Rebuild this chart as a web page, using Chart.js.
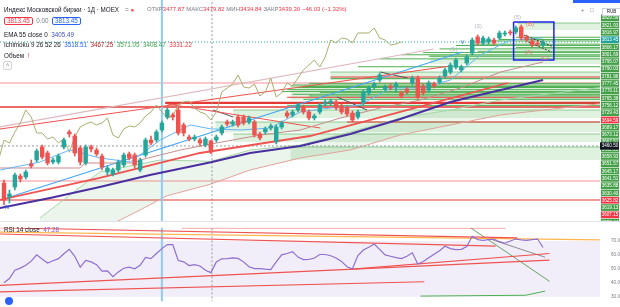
<!DOCTYPE html>
<html>
<head>
<meta charset="utf-8">
<script src="https://cdn.jsdelivr.net/npm/chart.js@4.4.1/dist/chart.umd.min.js"></script>
<style>
  body { margin:0; width:620px; height:307px; overflow:hidden; position:relative; background:#fff; font-family:"Liberation Sans", Arial, sans-serif; }
  canvas { position:absolute; left:0; }
  #mainChart { top:0; }
  #rsiChart { top:222px; }
  .t { position:absolute; white-space:nowrap; font-size:6.3px; line-height:7px; color:#131722; }
  .g { color:#787b86; }
  .r { color:#f23645; }
  .bx { border:1px solid; border-radius:2px; padding:0 2px; display:inline-block; line-height:6px; }
</style>
</head>
<body>
<canvas id="mainChart" width="620" height="221"></canvas>
<div style="position:absolute;left:0;top:221px;width:620px;height:1px;background:#e0e3eb"></div>
<canvas id="rsiChart" width="620" height="85"></canvas>

<!-- легенда сверху слева -->
<div class="t" style="left:4px;top:6px">Индекс Московской биржи · 1Д · MOEX</div>
<div class="t g" style="left:125px;top:6px">= <span style="color:#f7525f">●</span></div>
<div class="t" style="left:147px;top:6px;font-size:6px"><span class="g">ОТКР</span><span class="r">3477.87</span> <span class="g">МАКС</span><span class="r">3479.82</span> <span class="g">МИН</span><span class="r">3434.84</span> <span class="g">ЗАКР</span><span class="r">3439.30</span> <span class="r">−46.03 (−1.32%)</span></div>
<div class="t" style="left:4px;top:17px"><span class="bx" style="color:#f23645;border-color:#f23645">3813.45</span> <span class="g">&nbsp;0.00&nbsp;</span> <span class="bx" style="color:#2962ff;border-color:#2962ff">3813.45</span></div>
<div class="t" style="left:4px;top:31px">EMA 55 close 0 &nbsp;<span style="color:#3f51b5">3405.49</span></div>
<div class="t" style="left:4px;top:41px">Ichimoku 9 26 52 26 &nbsp;<span style="color:#2962ff">3518.51</span> &nbsp;<span style="color:#b71c1c">3467.25</span> &nbsp;<span style="color:#43a047">3571.05</span> &nbsp;<span style="color:#43a047">3408.47</span> &nbsp;<span style="color:#f23645">3331.22</span></div>
<div class="t" style="left:4px;top:52px">Объем &nbsp;<span style="color:#f23645">!</span></div>
<div class="t g" style="left:3px;top:61px;border:1px solid #d1d4dc;border-radius:2px;padding:0 2px">^</div>

<!-- правый верхний угол -->
<div style="position:absolute;left:573px;top:0;width:47px;height:3px;background:#2962ff"></div>
<div class="t g" style="left:581px;top:7px;font-size:6px">+</div>
<div class="t g" style="left:590px;top:7px;font-size:6px">□</div>
<div class="t" style="left:602px;top:8px;width:17px;height:6px;font-size:4.5px;line-height:6px;text-align:center;border:1px solid #d1d4dc;background:#fff">RUB</div>

<!-- подпись RSI -->
<div class="t" style="left:4px;top:226px">RSI 14 close &nbsp;<span style="color:#7e57c2">47.28</span></div>
<div style="position:absolute;left:5px;top:297px;width:8px;height:8px;border-radius:50%;background:#2962ff"></div>

<script>
// свечи (дневки), индексы 0..99
const openP = [3334.9,3287.4,3321.3,3358.7,3355.3,3399.4,3413.0,3457.1,3436.7,3406.2,
  3406.2,3457.1,3508.0,3494.4,3453.7,3402.8,3457.1,3446.9,3426.5,3372.2,
  3365.4,3379.0,3396.0,3433.3,3429.9,3379.0,3429.9,3480.8,3480.8,3514.8,
  3558.9,3565.7,3582.7,3531.8,3491.0,3484.2,3480.8,3463.9,3477.87,3480.8,
  3504.6,3541.9,3535.1,3558.9,3558.9,3541.9,3541.9,3501.2,3508.0,3521.6,
  3474.1,3525.0,3572.5,3565.7,3582.7,3592.8,3575.9,3555.5,3575.9,3603.0,
  3606.4,3609.8,3596.2,3589.4,3572.5,3558.9,3606.4,3640.4,3660.7,3684.5,
  3653.9,3664.1,3664.1,3640.4,3653.9,3674.3,3691.3,3664.1,3650.5,3670.9,
  3677.7,3698.1,3711.6,3728.6,3718.4,3742.2,3776.1,3830.4,3810.1,3813.5,
  3820.2,3827.0,3840.6,3847.4,3847.4,3864.4,3830.4,3816.8,3810.1,3803.3];
const highP = [3345.1,3311.1,3368.8,3365.4,3379.0,3413.0,3450.3,3463.9,3443.5,3419.7,
  3433.3,3487.6,3514.8,3501.2,3460.5,3463.9,3463.9,3453.7,3433.3,3392.6,
  3385.8,3413.0,3436.7,3440.1,3436.7,3419.7,3487.6,3494.4,3514.8,3545.3,
  3589.4,3572.5,3589.4,3538.5,3497.8,3497.8,3487.6,3491.0,3479.82,3497.8,
  3531.8,3548.7,3548.7,3565.7,3565.7,3562.3,3548.7,3508.0,3525.0,3535.1,
  3531.8,3545.3,3579.3,3582.7,3606.4,3599.6,3582.7,3569.1,3606.4,3616.6,
  3620.0,3616.6,3603.0,3596.2,3579.3,3582.7,3650.5,3664.1,3677.7,3708.2,
  3667.5,3670.9,3677.7,3647.1,3660.7,3698.1,3698.1,3670.9,3681.1,3677.7,
  3698.1,3725.2,3742.2,3759.1,3735.4,3769.3,3827.0,3837.2,3833.8,3830.4,
  3827.0,3850.8,3850.8,3854.2,3867.8,3871.2,3837.2,3823.6,3816.8,3820.2];
const lowP = [3260.2,3267.0,3311.1,3338.3,3348.5,3385.8,3406.2,3416.4,3396.0,3399.4,
  3399.4,3450.3,3491.0,3426.5,3396.0,3396.0,3440.1,3426.5,3379.0,3362.0,
  3358.7,3372.2,3389.2,3413.0,3385.8,3372.2,3423.1,3463.9,3474.1,3508.0,
  3552.1,3548.7,3497.8,3494.4,3477.4,3477.4,3460.5,3457.1,3434.84,3474.1,
  3497.8,3528.4,3528.4,3525.0,3531.8,3535.1,3491.0,3480.8,3501.2,3514.8,
  3467.3,3518.2,3555.5,3558.9,3575.9,3569.1,3548.7,3548.7,3569.1,3596.2,
  3599.6,3582.7,3569.1,3562.3,3541.9,3552.1,3599.6,3633.6,3653.9,3677.7,
  3647.1,3650.5,3643.8,3623.4,3637.0,3667.5,3620.0,3633.6,3643.8,3657.3,
  3670.9,3691.3,3704.8,3721.8,3711.6,3735.4,3769.3,3803.3,3803.3,3806.7,
  3803.3,3820.2,3833.8,3837.2,3840.6,3820.2,3813.5,3796.5,3799.9,3796.5];
const closeP = [3277.2,3297.6,3362.0,3348.5,3372.2,3392.6,3443.5,3423.1,3402.8,3413.0,
  3426.5,3480.8,3501.2,3436.7,3406.2,3457.1,3450.3,3433.3,3389.2,3385.8,
  3379.0,3406.2,3429.9,3419.7,3396.0,3413.0,3480.8,3470.7,3508.0,3538.5,
  3582.7,3558.9,3504.6,3504.6,3484.2,3491.0,3470.7,3484.2,3439.30,3491.0,
  3525.0,3535.1,3541.9,3531.8,3538.5,3555.5,3497.8,3487.6,3518.2,3528.4,
  3525.0,3538.5,3562.3,3575.9,3599.6,3575.9,3555.5,3562.3,3599.6,3609.8,
  3613.2,3589.4,3575.9,3569.1,3548.7,3575.9,3643.8,3657.3,3670.9,3701.5,
  3660.7,3657.3,3670.9,3630.2,3643.8,3691.3,3626.8,3640.4,3674.3,3664.1,
  3691.3,3718.4,3735.4,3752.4,3728.6,3762.5,3820.2,3810.1,3827.0,3823.6,
  3810.1,3844.0,3844.0,3844.0,3861.0,3827.0,3820.2,3803.3,3806.7,3813.45];

// RSI 14
const rsiValues = [40,43,49,50.5,52.5,55.5,60,57,54.2,55.8,
  57.3,60.8,64,59,51.2,56,55,53,48.3,48.5,
  44.3,47.8,50.4,51.2,50,52.5,58.2,57.3,61,64.5,
  67.4,67.4,56,55,52.3,53,52,49,47.28,55,
  57.2,57.3,57.8,57.5,55,51.5,50.2,50.2,49.8,49.5,
  55,60,61,62.3,58.4,56.6,56.7,57.8,60.3,60.3,
  59.4,57.8,55.3,51.5,50,59.5,63.5,65.5,67.8,64,
  60,59,58,57.3,59,61.5,53.5,55.3,58,60.5,
  63,66.2,64.5,63.8,64,66,73.4,71,70.4,71,
  71.4,69.5,68.4,70,71.4,70.8,70.4,71,71.4,65.3];

// Ишимоку и EMA: [индекс, цена]
const tenkanPts = [[-0.7,3379],[6.6,3406.2],[12.1,3446.9],[17.6,3419.7],[23.2,3406.2],[28.7,3480.8],[34.2,3531.8],[38,3518.51],[43.4,3514.8],[48.9,3521.6],[54.4,3575.9],[60,3589.4],[65.4,3599.6],[71,3657.3],[76.5,3657.3],[82,3684.5],[87.5,3769.3],[93,3820.2],[99,3827]];
const kijunPts = [[-0.7,3385.8],[14,3385.8],[14.9,3402.8],[24.1,3402.8],[25,3413],[32.4,3446.9],[38,3467.25],[47.1,3497.8],[54.4,3514.8],[61.8,3555.5],[69.1,3589.4],[76.5,3616.6],[83.8,3657.3],[91.2,3711.6],[99,3745.6]];
const spanAPts = [[6.6,3216.1],[17.6,3372.2],[28.7,3413],[38,3408.47],[45.2,3446.9],[54.4,3463.9],[63.6,3508],[72.8,3555.5],[82,3582.7],[91.2,3616.6],[110,3660]];
const spanBPts = [[6.6,3120],[19.5,3192.4],[25,3243.3],[29.8,3290.8],[38,3331.22],[45.2,3379],[54.4,3419.7],[63.6,3446.9],[72.8,3497.8],[82,3531.8],[91.2,3565.7],[110,3605]];
const emaPts = [[-0.74,3250],[8.46,3284],[17.6,3321.3],[26.8,3362],[38,3405.49],[45.2,3436.7],[54.4,3460.5],[63.6,3501.2],[72.8,3552.1],[82,3609.8],[91.2,3650.5],[99,3684.5]];
const redCurvePts = [[-0.74,3277.2],[17.6,3351.9],[36,3436.7],[56.2,3494.4],[72.8,3575.9],[92.5,3674.3]];

// горизонтальные уровни с метками на шкале
const levelPrices = [3829.59,3821.93,3816.97,3806.17,3801.69,3795.07,3790.03,3781.96,3777.45,3770.11,3765.38,3756.12,3729.43,3694.59,3689.17,3673.12,3667.51,3662.20,3658.93,3651.57,3645.17,3641.51,3635.88,3630.40,3625.82,3619.13,3607.15,3598.44];
const levelStarts = [94,91,88,86,83,94,80,87,77,73,78,69,65,60,60,56,53,55,54,52,51,58,53,56,52,55,29.6,52];
const levelKinds = ['g','g','g','g','g','g','g','g','g','g','g','g','g','r','g','g','g','g','g','g','g','g','g','g','r','g','r','g'];
// красные линии без меток
const redPrices = [3674.3,3592.8,3541.9,3341.7,3277.2];
const redStarts = [-0.74,-0.74,63,-0.74,-0.74];
// зелёные прямоугольники
const zoneTops = [3877.9,3765.9,3711.6,3664.1,3582.7,3541.9,3501.2,3457.1];
const zoneBottoms = [3854.2,3738.8,3684.5,3616.6,3555.5,3508,3474.1,3413];
const zoneStarts = [94.3,78.3,59.9,52.6,42.1,38.8,42.1,52.6];

const crossIndex = 38.2, crossPrice = 3460.50, markIndex = 29;

const waveLabels = [
  { i: 0.6, p: 3252, t: 'IV', c: '#2962ff' },
  { i: 84.2, p: 3812, t: 'V', c: '#2962ff' },
  { i: 82.6, p: 3790, t: '(1)', c: '#b2b5be' },
  { i: 87.1, p: 3868, t: '(3)', c: '#b2b5be' },
  { i: 94.3, p: 3898, t: '(5)', c: '#b2b5be' },
  { i: 96.6, p: 3872, t: '(B)', c: '#e57373' },
  { i: 96.4, p: 3780, t: '(A)', c: '#e57373' },
  { i: 99.3, p: 3757, t: '(C)', c: '#e57373' }
];

const X_MIN = -0.735, X_MAX = 109.47;
const UP = '#26a69a', DOWN = '#ef5350';

function seg(pts, color, width, order, dash) {
  return {
    type: 'line',
    data: pts.map(function (q) { return { x: q[0], y: q[1] }; }),
    borderColor: color, borderWidth: width, borderDash: dash || [],
    pointRadius: 0, fill: false, tension: 0, order: order
  };
}

window.onload = function () {
  const candleColors = closeP.map(function (c, i) { return c >= openP[i] ? UP : DOWN; });
  const datasets = [];

  // тела свечей
  datasets.push({
    type: 'bar', order: 0, grouped: false, barThickness: 3.8,
    data: closeP.map(function (c, i) { return { x: i, y: [openP[i], c] }; }),
    backgroundColor: candleColors, minBarLength: 1
  });
  // тени
  datasets.push({
    type: 'bar', order: 1, grouped: false, barThickness: 1,
    data: closeP.map(function (c, i) { return { x: i, y: [lowP[i], highP[i]] }; }),
    backgroundColor: candleColors
  });

  // синий прямоугольник и канал внутри
  datasets.push(seg([[93.6,3881.3],[101,3881.3],[101,3752.4],[93.6,3752.4],[93.6,3881.3]], '#1f24e8', 1.5, 2));
  datasets.push(seg([[95.5,3837],[101,3796.5]], '#333', 1, 2, [2, 1.5]));
  datasets.push(seg([[96.4,3813],[100.6,3779]], '#333', 1, 2, [2, 1.5]));

  // EMA 55 и красная кривая
  datasets.push(seg(emaPts, '#4a2fa0', 2, 3));
  datasets.push(seg(redCurvePts, '#ef5350', 1.8, 3));

  // Ишимоку
  datasets.push(seg(tenkanPts, '#64b5f6', 1, 4));
  datasets.push(seg(kijunPts, '#c98b8b', 1, 4));
  datasets.push({
    type: 'line', order: 7, pointRadius: 0, tension: 0, borderWidth: 1, borderColor: '#a5d6a7',
    data: spanAPts.map(function (q) { return { x: q[0], y: q[1] }; }),
    fill: { target: '+1', above: 'rgba(67,160,71,0.10)', below: 'rgba(244,67,54,0.08)' }
  });
  datasets.push(seg(spanBPts, '#e6a3a0', 1, 7));
  // запаздывающая линия: закрытия, сдвинутые на 26 баров назад
  datasets.push({
    type: 'line', order: 4, pointRadius: 0, tension: 0, borderWidth: 1, borderColor: '#a9ad6e', fill: false,
    data: closeP.map(function (c, i) { return { x: i - 26, y: c }; })
  });

  // трендовые линии
  datasets.push(seg([[-0.74,3525],[78.9,3789.7]], '#dcb8bd', 1.2, 5));
  datasets.push(seg([[-0.74,3518.2],[82,3732]], '#ef5350', 1.2, 5));
  datasets.push(seg([[1.1,3287.4],[84.2,3779.5]], '#42a5f5', 1.2, 5));
  datasets.push(seg([[30,3603],[58.1,3521.6]], '#ef5350', 1, 5));
  datasets.push(seg([[61.2,3626.8],[66.7,3582.7]], '#555', 1, 5));
  datasets.push(seg([[69.1,3711.6],[74.1,3691.3]], '#555', 1, 5));
  datasets.push(seg([[38.4,3582.7],[42.1,3558.9]], '#555', 1, 5));

  // вертикаль и перекрестие
  datasets.push(seg([[markIndex,3100],[markIndex,4000]], '#90caf9', 2, 6));
  datasets.push(seg([[crossIndex,3100],[crossIndex,4000]], '#9598a1', 1, 6, [2, 2]));
  datasets.push(seg([[X_MIN,crossPrice],[X_MAX,crossPrice]], '#9598a1', 1, 6, [2, 2]));
  datasets.push(seg([[X_MIN,closeP[99]],[X_MAX,closeP[99]]], UP, 1, 6, [1, 2]));

  // уровни
  levelPrices.forEach(function (p, k) {
    const red = levelKinds[k] === 'r';
    datasets.push(seg([[levelStarts[k], p], [X_MAX, p]], red ? '#e53935' : '#4caf50', k === 26 ? 2.2 : 1, 8));
  });
  redPrices.forEach(function (p, k) {
    const light = k === 0 || k === 3;
    datasets.push(seg([[redStarts[k], p], [X_MAX, p]], light ? 'rgba(242,54,69,0.55)' : '#e53935', k === 1 ? 1.6 : 1.2, 8));
  });
  // зоны
  zoneTops.forEach(function (p, k) {
    datasets.push({
      type: 'line', order: 9, pointRadius: 0, borderWidth: 1, borderColor: 'rgba(76,175,80,0.6)',
      data: [{ x: zoneStarts[k], y: p }, { x: X_MAX, y: p }],
      fill: { value: zoneBottoms[k] }, backgroundColor: 'rgba(76,175,80,0.18)'
    });
  });

  // метки волн и стопка меток на правой шкале
  const axisLabelPlugin = {
    id: 'axisLabels',
    afterDatasetsDraw(chart) {
      const ctx = chart.ctx, xs = chart.scales.x, ys = chart.scales.y;
      ctx.save();
      ctx.font = '6px "Liberation Sans", Arial';
      ctx.textAlign = 'center';
      ctx.textBaseline = 'middle';
      waveLabels.forEach(function (w) {
        ctx.fillStyle = w.c;
        ctx.fillText(w.t, xs.getPixelForValue(w.i), ys.getPixelForValue(w.p));
      });
      ctx.restore();
    },
    afterDraw(chart) {
      const ctx = chart.ctx, ys = chart.scales.y;
      const left = chart.chartArea.right + 1, w = chart.width - left - 1, h = 7.3;
      const items = levelPrices.map(function (p, k) {
        return { p: p, bg: levelKinds[k] === 'r' ? '#f23645' : '#43a047' };
      });
      items.push({ p: closeP[closeP.length - 1], bg: '#1ba39c' });
      items.sort(function (a, b) { return b.p - a.p; });

      let groups = items.map(function (it) { return { list: [it], c: ys.getPixelForValue(it.p) }; });
      let changed = true;
      while (changed) {
        changed = false;
        for (let k = 0; k < groups.length - 1; k++) {
          const a = groups[k], b = groups[k + 1];
          if (a.c + a.list.length * h / 2 > b.c - b.list.length * h / 2) {
            const n = a.list.length + b.list.length;
            groups.splice(k, 2, { list: a.list.concat(b.list), c: (a.c * a.list.length + b.c * b.list.length) / n });
            changed = true;
            break;
          }
        }
      }
      ctx.save();
      ctx.font = '4.6px "Liberation Sans", Arial';
      ctx.textAlign = 'center';
      ctx.textBaseline = 'middle';
      let free = 14.4;
      groups.forEach(function (g) {
        let t = Math.max(g.c - g.list.length * h / 2, free);
        g.list.forEach(function (it) {
          ctx.fillStyle = it.bg;
          ctx.fillRect(left, t, w, h - 0.6);
          ctx.fillStyle = '#fff';
          ctx.fillText(it.p.toFixed(2), left + w / 2, t + h / 2);
          t += h;
        });
        free = t;
      });
      // метка перекрестия
      const cy = ys.getPixelForValue(crossPrice) - h / 2;
      ctx.fillStyle = '#131722';
      ctx.fillRect(left - 1, cy, w + 1, h);
      ctx.fillStyle = '#fff';
      ctx.fillText(crossPrice.toFixed(2), left + w / 2, cy + h / 2);
      ctx.restore();
    }
  };

  new Chart(document.getElementById('mainChart'), {
    data: { datasets: datasets },
    options: {
      responsive: false, animation: false, events: [],
      layout: { padding: { right: 20 } },
      plugins: { legend: { display: false }, tooltip: { enabled: false } },
      scales: {
        x: { type: 'linear', min: X_MIN, max: X_MAX, display: false, offset: false },
        y: { type: 'linear', min: 3205.9, max: 3956, display: false }
      }
    },
    plugins: [axisLabelPlugin]
  });

  // RSI
  const rsiSets = [];
  rsiSets.push({
    type: 'line', order: 0, pointRadius: 0, tension: 0, borderWidth: 1.2, borderColor: '#8e6fcf', fill: false,
    data: rsiValues.map(function (v, i) { return { x: i, y: v }; })
  });
  rsiSets.push(seg([[-0.74,79.5],[94.3,72.2]], '#ef5350', 1.2, 3));
  rsiSets.push(seg([[32.7,79.3],[92.1,79.3]], 'rgba(239,83,80,0.55)', 1.2, 3));
  rsiSets.push(seg([[-0.74,76.3],[X_MAX,70.8]], '#ffb74d', 1.2, 3));
  rsiSets.push(seg([[-0.74,75],[90.3,66.3]], '#ef5350', 1.2, 3));
  rsiSets.push(seg([[-0.74,38.1],[100.2,56.3]], '#ef5350', 1.2, 3));
  rsiSets.push(seg([[63.4,49.6],[100.2,61]], '#ef5350', 1.2, 3));
  rsiSets.push(seg([[-0.74,33.4],[77.2,40.7]], '#ef5350', 1.2, 3));
  rsiSets.push(seg([[85.7,79.5],[100.2,41]], '#6a9f6a', 1, 3));
  rsiSets.push(seg([[89.3,71.4],[99.4,58.3]], '#8d8d8d', 1, 3));
  rsiSets.push(seg([[76.5,30.4],[95.8,31],[99.4,34]], '#4caf50', 1, 3));
  rsiSets.push(seg([[markIndex,0],[markIndex,100]], '#90caf9', 2, 6));
  rsiSets.push(seg([[crossIndex,0],[crossIndex,100]], '#9598a1', 1, 6, [2, 2]));
  rsiSets.push({
    type: 'line', order: 9, pointRadius: 0, borderWidth: 0,
    data: [{ x: X_MIN, y: 70 }, { x: X_MAX, y: 70 }],
    fill: { value: 30 }, backgroundColor: 'rgba(126,87,194,0.1)'
  });

  new Chart(document.getElementById('rsiChart'), {
    data: { datasets: rsiSets },
    options: {
      responsive: false, animation: false, events: [],
      plugins: { legend: { display: false }, tooltip: { enabled: false } },
      scales: {
        x: { type: 'linear', min: X_MIN, max: X_MAX, display: false, offset: false },
        y: {
          type: 'linear', position: 'right', min: 26.7, max: 79.5,
          grid: { display: false }, border: { display: false },
          afterFit: function (s) { s.width = 20; },
          afterBuildTicks: function (s) { s.ticks = [30, 40, 50, 60, 70].map(function (v) { return { value: v }; }); },
          ticks: {
            padding: 3, color: '#787b86', font: { size: 4.6, family: 'Liberation Sans' },
            callback: function (v) { return Number(v).toFixed(2); }
          }
        }
      }
    }
  });
};
</script>
</body>
</html>
